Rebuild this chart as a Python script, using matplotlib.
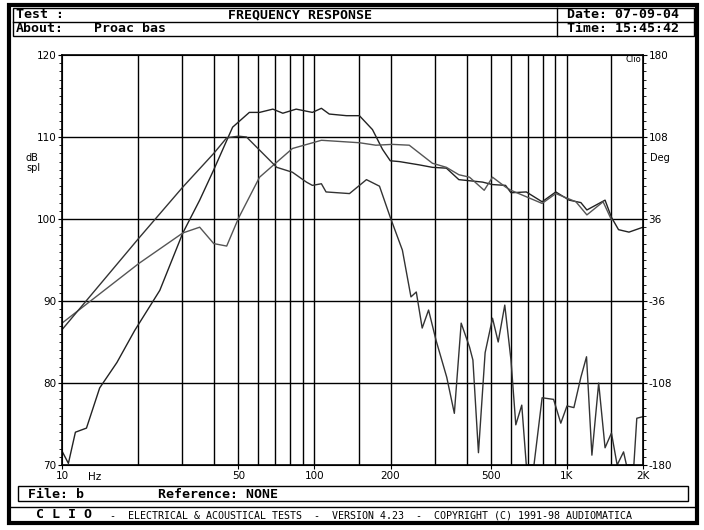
import matplotlib
matplotlib.use("Agg")
import matplotlib.pyplot as plt
from matplotlib.patches import Rectangle

# -----------------------------------------------------------------------------
# Data (frequency in Hz, level in dB SPL)
# -----------------------------------------------------------------------------
f1 = [10, 10.6, 11.3, 12.5, 14.1, 16.5, 19.4, 24.4, 30.1, 35.1, 39.9, 47.4, 55.2,
      60.6, 68.4, 74.9, 84.6, 98.1, 106.5, 114.4, 133.8, 150.6, 169.7, 185.9,
      199.6, 217, 260, 293, 333, 373, 463, 507, 571, 600, 690, 797, 903, 1020,
      1135, 1199, 1415, 1500, 1600, 1760, 2000]
db1 = [71.7, 70.2, 74.0, 74.5, 79.4, 82.5, 86.4, 91.3, 98.3, 102.3, 106.0, 111.2, 113.0,
       113.0, 113.4, 112.9, 113.4, 113.0, 113.5, 112.8, 112.6, 112.6, 110.9, 108.5,
       107.1, 107.0, 106.6, 106.3, 106.2, 104.8, 104.5, 104.2, 104.1, 103.2, 103.3,
       102.1, 103.3, 102.3, 102.0, 101.1, 102.3, 100.2, 98.7, 98.4, 99.0]

f2 = [10, 20.2, 30.1, 39.9, 44.9, 50.0, 53.8, 60.6, 70.9, 81.8, 92.9, 98.1, 106.5,
      111.1, 137.6, 160.6, 180.9, 199.6, 222.9, 241, 253, 267, 283, 303, 334, 358,
      381, 411, 424, 446, 474, 507, 534, 567, 600, 627, 662, 690, 740, 797, 885,
      945, 1000, 1065, 1135, 1195, 1255, 1335, 1415, 1500, 1580, 1675, 1720,
      1840, 1890, 2000]
db2 = [86.5, 97.7, 103.9, 108.0, 109.9, 110.1, 110.0, 108.4, 106.3, 105.7, 104.5, 104.1, 104.3,
       103.3, 103.1, 104.8, 104.0, 100.2, 96.2, 90.5, 91.1, 86.7, 88.9, 85.2, 80.7, 76.3,
       87.3, 84.4, 82.8, 71.5, 83.7, 87.9, 85.0, 89.5, 82.8, 74.9, 77.3, 70.0, 70.0,
       78.2, 78.0, 75.1, 77.2, 77.0, 80.7, 83.2, 71.2, 80.0, 72.1, 73.9, 70.0, 71.6,
       70.0, 70.0, 75.7, 75.9]

f3 = [10, 20.2, 30.1, 35.1, 39.9, 44.9, 50.0, 60.6, 81.8, 106.5, 150.6, 175, 203.3,
      237.3, 293, 333, 373, 411, 470, 507, 571, 600, 797, 903, 1085, 1199, 1390, 1500]
db3 = [87.3, 94.6, 98.3, 99.0, 97.0, 96.7, 100.1, 105.1, 108.6, 109.6, 109.3, 109.0, 109.1,
       109.0, 106.8, 106.3, 105.4, 105.1, 103.5, 105.1, 103.9, 103.5, 101.9, 103.1,
       102.1, 100.5, 102.1, 99.9]

grid_freqs = [20, 30, 40, 50, 60, 70, 80, 90, 100, 150, 200, 300, 400, 500, 600,
              700, 800, 900, 1000, 1500]
xtick_vals = [10, 50, 100, 200, 500, 1000, 2000]
xtick_text = ["10", "50", "100", "200", "500", "1K", "2K"]
ytick_vals = [70, 80, 90, 100, 110, 120]
deg_text = ["-180", "-108", "-36", "36", "108", "180"]

W, H = 704, 530
MONO = "DejaVu Sans Mono"


def fx(px):
    return px / W


def fy(py):
    return 1 - py / H


fig = plt.figure(figsize=(W / 100, H / 100), dpi=100)
fig.patch.set_facecolor("white")

# frame and header / footer boxes
fig.add_artist(Rectangle((fx(9), fy(523)), fx(697) - fx(9), fy(5) - fy(523),
                         fill=False, lw=3, ec="black", transform=fig.transFigure))
fig.add_artist(Rectangle((fx(13), fy(36)), fx(694) - fx(13), fy(8) - fy(36),
                         fill=False, lw=1, ec="black", transform=fig.transFigure))
fig.add_artist(plt.Line2D([fx(13), fx(694)], [fy(22), fy(22)], lw=1, color="black"))
fig.add_artist(plt.Line2D([fx(557), fx(557)], [fy(8), fy(36)], lw=1, color="black"))
fig.add_artist(Rectangle((fx(18), fy(501)), fx(688) - fx(18), fy(486) - fy(501),
                         fill=False, lw=1, ec="black", transform=fig.transFigure))
fig.add_artist(plt.Line2D([fx(9), fx(697)], [fy(507), fy(507)], lw=1, color="black"))

hdr = dict(family=MONO, weight="bold", fontsize=9.5, va="center")
fig.text(fx(16), fy(15), "Test :", **hdr)
fig.text(fx(300), fy(15), "FREQUENCY RESPONSE", ha="center", **hdr)
fig.text(fx(567), fy(15), "Date: 07-09-04", **hdr)
fig.text(fx(16), fy(29), "About:", **hdr)
fig.text(fx(94), fy(29), "Proac bas", **hdr)
fig.text(fx(567), fy(29), "Time: 15:45:42", **hdr)
fig.text(fx(28), fy(494), "File: b", **hdr)
fig.text(fx(158), fy(494), "Reference: NONE", **hdr)
fig.text(fx(36), fy(515), "C L I O", family=MONO, weight="bold", fontsize=9.5, va="center")
fig.text(fx(110), fy(515),
         "-  ELECTRICAL & ACOUSTICAL TESTS  -  VERSION 4.23  -  COPYRIGHT (C) 1991-98 AUDIOMATICA",
         family=MONO, fontsize=7.2, va="center")

# plot area
ax = fig.add_axes([fx(62), fy(465), fx(643) - fx(62), fy(55) - fy(465)])
ax.set_xscale("log")
ax.set_xlim(10, 2000)
ax.set_ylim(70, 120)
for g in grid_freqs:
    ax.axvline(g, color="black", lw=1)
for v in [80, 90, 100, 110]:
    ax.axhline(v, color="black", lw=1)

ax.plot(f1, db1, color="#222222", lw=1)
ax.plot(f3, db3, color="#555555", lw=1)
ax.plot(f2, db2, color="#333333", lw=1)

ax.set_xticks(xtick_vals)
ax.set_xticklabels(xtick_text, fontsize=7.5)
ax.minorticks_off()
ax.set_yticks(ytick_vals)
ax.set_yticklabels([str(v) for v in ytick_vals], fontsize=7.5)
ax.set_yticks(range(70, 121), minor=True)
ax.tick_params(axis="y", which="minor", length=2)
ax.tick_params(axis="both", which="major", length=3, pad=1)
for s in ax.spines.values():
    s.set_linewidth(1.2)

ax2 = ax.twinx()
ax2.set_ylim(70, 120)
ax2.set_yticks(ytick_vals)
ax2.set_yticklabels(deg_text, fontsize=7.5)
ax2.tick_params(axis="y", length=3, pad=1)
ax2.set_yticks(range(70, 121), minor=True)
ax2.tick_params(axis="y", which="minor", length=2)

fig.text(fx(26), fy(158), "dB", fontsize=7, va="center")
fig.text(fx(26), fy(168), "spl", fontsize=7, va="center")
fig.text(fx(650), fy(158), "Deg", fontsize=7, va="center")
fig.text(fx(625), fy(60), "Clio", fontsize=6, va="center")
fig.text(fx(88), fy(477), "Hz", fontsize=7.5, va="center")

fig.savefig("out.png", dpi=100)
